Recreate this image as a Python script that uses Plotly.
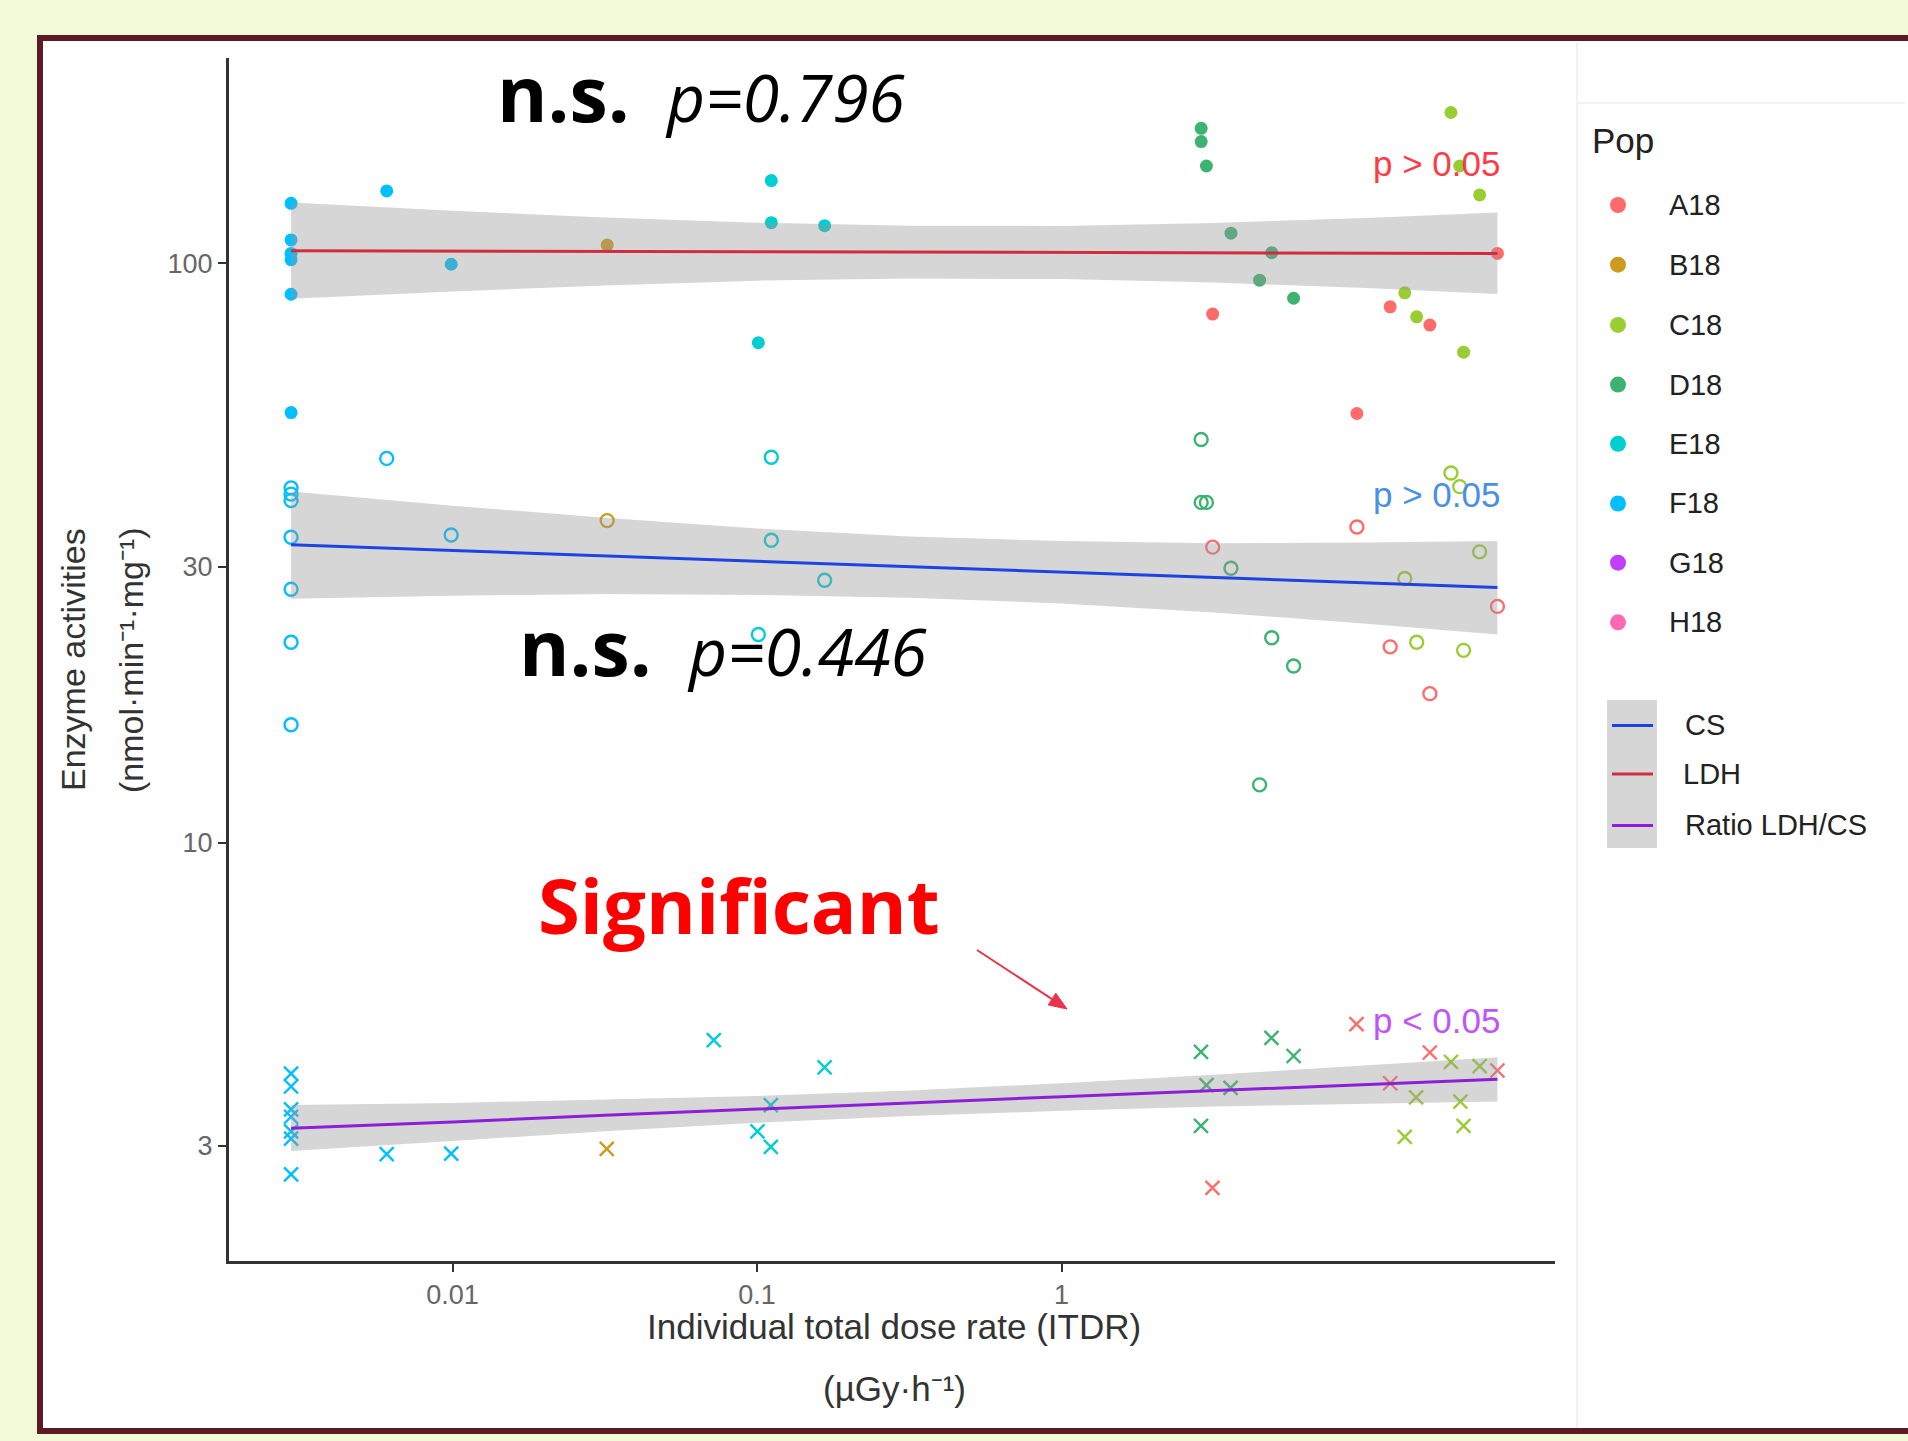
import plotly.graph_objects as go

# ---------------- data ----------------
pops = ["A18", "B18", "C18", "D18", "E18", "F18", "G18", "H18"]
pop_colors = ["#FF6A6A", "#CD9B1D", "#9ACD32", "#3CB371", "#00CED1", "#00BFFF", "#BF3EFF", "#FF69B4"]

# LDH (filled circles)
ldh_x = {
    "A18": [3.135, 12.0, 16.2, 9.33, 27.0],
    "B18": [0.0322],
    "C18": [19.0, 20.3, 23.6, 13.4, 14.66, 20.9],
    "D18": [2.874, 2.874, 2.99, 3.60, 4.90, 4.47, 5.78],
    "E18": [0.1114, 0.1114, 0.1667, 0.101],
    "F18": [0.00295, 0.00295, 0.00295, 0.00295, 0.00295, 0.00295, 0.00608, 0.0099],
}
ldh_y = {
    "A18": [81.8, 84.2, 78.3, 55.1, 104.1],
    "B18": [107.6],
    "C18": [182.2, 147.3, 131.3, 89.0, 80.9, 70.3],
    "D18": [171.1, 162.3, 147.3, 112.8, 104.4, 93.6, 87.1],
    "E18": [139.0, 117.6, 116.2, 73.0],
    "F18": [127.0, 109.8, 104.1, 101.5, 88.5, 55.3, 133.4, 99.7],
}
# CS (open circles)
cs_x = {
    "A18": [3.135, 9.33, 12.0, 16.2, 27.0],
    "B18": [0.0322],
    "C18": [19.0, 20.3, 23.6, 13.4, 14.66, 20.9],
    "D18": [2.874, 2.874, 2.99, 3.60, 4.90, 5.78, 4.47],
    "E18": [0.1114, 0.1114, 0.1667, 0.101],
    "F18": [0.00295, 0.00295, 0.00295, 0.00295, 0.00295, 0.00295, 0.00295, 0.00608, 0.0099],
}
cs_y = {
    "A18": [32.4, 35.1, 21.8, 18.1, 25.6],
    "B18": [36.0],
    "C18": [43.5, 41.2, 31.8, 28.6, 22.2, 21.5],
    "D18": [49.7, 38.7, 38.7, 29.8, 22.6, 20.2, 12.6],
    "E18": [46.3, 33.3, 28.4, 22.9],
    "F18": [41.0, 40.0, 39.0, 33.7, 27.4, 22.2, 16.0, 46.1, 34.0],
}
# Ratio LDH/CS (crosses)
ratio_x = {
    "A18": [3.13, 9.3, 16.2, 12.0, 27.0],
    "B18": [0.0321],
    "C18": [19.0, 23.6, 14.6, 20.4, 20.9, 13.4],
    "D18": [2.87, 4.89, 5.78, 2.99, 3.59, 2.87],
    "E18": [0.0721, 0.1667, 0.111, 0.1003, 0.111],
    "F18": [0.00295, 0.00295, 0.00295, 0.00295, 0.00295, 0.00295, 0.00295, 0.00608, 0.0099],
}
ratio_y = {
    "A18": [2.54, 4.87, 4.35, 3.85, 4.05],
    "B18": [2.965],
    "C18": [4.19, 4.12, 3.64, 3.58, 3.25, 3.11],
    "D18": [4.36, 4.61, 4.29, 3.82, 3.78, 3.25],
    "E18": [4.57, 4.10, 3.53, 3.18, 2.99],
    "F18": [4.0, 3.8, 3.47, 3.37, 3.18, 3.09, 2.68, 2.905, 2.91],
}

# fitted lines and confidence ribbons
fit_x = [0.00295, 0.01, 0.0316, 0.1, 0.316, 1.0, 3.16, 10.0, 27.0]
ldh_fit = [105.2, 105.06, 104.9, 104.8, 104.6, 104.5, 104.4, 104.2, 104.1]
ldh_up = [127.4, 123.3, 120.1, 117.6, 116.2, 116.1, 117.5, 119.8, 122.4]
ldh_lo = [86.9, 89.5, 91.6, 93.4, 94.2, 94.0, 92.7, 90.7, 88.6]
cs_fit = [32.7, 31.96, 31.3, 30.6, 29.96, 29.3, 28.7, 28.1, 27.6]
cs_up = [40.4, 38.2, 36.4, 34.9, 33.8, 33.2, 32.9, 33.0, 33.2]
cs_lo = [26.4, 26.7, 26.9, 26.8, 26.5, 25.9, 25.0, 23.9, 22.9]
ratio_fit = [3.22, 3.30, 3.39, 3.47, 3.56, 3.65, 3.74, 3.83, 3.91]
ratio_up = [3.53, 3.56, 3.61, 3.66, 3.74, 3.85, 3.98, 4.13, 4.27]
ratio_lo = [2.94, 3.06, 3.18, 3.29, 3.38, 3.45, 3.51, 3.55, 3.58]

line_names = ["CS", "LDH", "Ratio LDH/CS"]
line_colors = ["#1D44E0", "#D12D3F", "#8E1ED8"]

x_ticks = [0.01, 0.1, 1]
x_ticklabels = ["0.01", "0.1", "1"]
y_ticks = [3, 10, 30, 100]
y_ticklabels = ["3", "10", "30", "100"]

# ---------------- layout geometry ----------------
FW, FH = 1908, 1441
L, R, T, B = 229, 1555, 58, 1261
W, H = R - L, B - T


def px(x):
    return (x - L) / W


def py(y):
    return (B - y) / H


GGFONT = "Liberation Sans"
fig = go.Figure()

# points
for p, c in zip(pops, pop_colors):
    if p in ldh_x:
        fig.add_trace(go.Scatter(x=ldh_x[p], y=ldh_y[p], mode="markers",
                                 marker=dict(symbol="circle", size=13, color=c, line=dict(width=0)),
                                 showlegend=False, hoverinfo="skip"))
        fig.add_trace(go.Scatter(x=cs_x[p], y=cs_y[p], mode="markers",
                                 marker=dict(symbol="circle-open", size=13, color=c, line=dict(width=2.4, color=c)),
                                 showlegend=False, hoverinfo="skip"))
        fig.add_trace(go.Scatter(x=ratio_x[p], y=ratio_y[p], mode="markers",
                                 marker=dict(symbol="x-thin-open", size=14, color=c, line=dict(width=2.4, color=c)),
                                 showlegend=False, hoverinfo="skip"))

# ribbons
for up, lo in [(ldh_up, ldh_lo), (cs_up, cs_lo), (ratio_up, ratio_lo)]:
    fig.add_trace(go.Scatter(x=fit_x + fit_x[::-1], y=up + lo[::-1], mode="lines",
                             fill="toself", fillcolor="rgba(153,153,153,0.4)",
                             line=dict(width=0), showlegend=False, hoverinfo="skip"))
# fitted lines
for fy, col in [(cs_fit, line_colors[0]), (ldh_fit, line_colors[1]), (ratio_fit, line_colors[2])]:
    fig.add_trace(go.Scatter(x=fit_x, y=fy, mode="lines", line=dict(color=col, width=3),
                             showlegend=False, hoverinfo="skip"))

shapes = []
# white panel with maroon border
shapes.append(dict(type="rect", xref="paper", yref="paper", layer="below",
                   x0=px(40), x1=px(1930), y0=py(38), y1=py(1431),
                   fillcolor="white", line=dict(color="#5C1B24", width=6)))
# faint edges of the pasted image / legend panel
shapes.append(dict(type="line", xref="paper", yref="paper", layer="below",
                   x0=px(1577), x1=px(1577), y0=py(42), y1=py(1428),
                   line=dict(color="#EEEEEE", width=1.5)))
shapes.append(dict(type="line", xref="paper", yref="paper", layer="below",
                   x0=px(1577), x1=px(1905), y0=py(103), y1=py(103),
                   line=dict(color="#EEEEEE", width=1.5)))

# arrow pointing to the ratio fit
ARROW = "#E8334A"
tail = (977, 950)
tip = (1067, 1009)
base = (1052.0, 999.1)
c1 = (1048.2, 1004.9)
c2 = (1055.8, 993.2)
shapes.append(dict(type="line", xref="paper", yref="paper",
                   x0=px(tail[0]), y0=py(tail[1]), x1=px(base[0]), y1=py(base[1]),
                   line=dict(color=ARROW, width=2)))
shapes.append(dict(type="path", xref="paper", yref="paper",
                   path="M {:.5f},{:.5f} L {:.5f},{:.5f} L {:.5f},{:.5f} Z".format(
                       px(tip[0]), py(tip[1]), px(c1[0]), py(c1[1]), px(c2[0]), py(c2[1])),
                   fillcolor=ARROW, line=dict(color=ARROW, width=1)))

annotations = []


def txt(x, y, text, size, color, family=GGFONT, xanchor="left", weight="normal", style="normal", angle=0):
    annotations.append(dict(x=px(x), y=py(y), xref="paper", yref="paper", xanchor=xanchor, yanchor="middle",
                            text=text, showarrow=False, textangle=angle,
                            font=dict(family=family, size=size, color=color, weight=weight, style=style)))


# legend: Pop
txt(1590, 141, "Pop", 35, "#222222")
leg_y = [205, 264.7, 324.9, 384.6, 443.8, 503.5, 562.7, 622.3]
for p, c, yy in zip(pops, pop_colors, leg_y):
    r = 8
    shapes.append(dict(type="circle", xref="paper", yref="paper",
                       x0=px(1618 - r), x1=px(1618 + r), y0=py(yy + r), y1=py(yy - r),
                       fillcolor=c, line=dict(width=0)))
    txt(1667, yy, p, 29, "#222222")
# legend: lines
shapes.append(dict(type="rect", xref="paper", yref="paper", x0=px(1607), x1=px(1657), y0=py(848), y1=py(700),
                   fillcolor="#D6D6D6", line=dict(width=0)))
for name, col, yy, xl in zip(line_names, line_colors, [725.4, 773.9, 825.5], [1683, 1681, 1683]):
    shapes.append(dict(type="line", xref="paper", yref="paper", x0=px(1612), x1=px(1653), y0=py(yy), y1=py(yy),
                       line=dict(color=col, width=3)))
    txt(xl, yy, name, 29, "#222222")

# axis titles
txt(894, 1326, "Individual total dose rate (ITDR)", 35, "#333333", xanchor="center")
txt(894, 1388, "(µGy·h⁻¹)", 35, "#333333", xanchor="center")
txt(73, 660, "Enzyme activities", 34, "#333333", xanchor="center", angle=-90)
txt(131, 660, "(nmol·min⁻¹·mg⁻¹)", 34, "#333333", xanchor="center", angle=-90)

# p-value labels
for t, col, yy in [("p > 0.05", "#FF3B47", 163), ("p > 0.05", "#4A8FE6", 495), ("p < 0.05", "#BF55F5", 1020)]:
    txt(1502, yy, t, 35, col, xanchor="right")

# big statements (baseline - 0.388*size = centre)
txt(495, 122 - 0.388 * 77, "n.s.", 77, "#000000", family="Open Sans", weight="bold")
txt(663, 122 - 0.388 * 66, "p=0.796", 66, "#000000", family="Open Sans", style="italic")
txt(517, 676 - 0.388 * 77, "n.s.", 77, "#000000", family="Open Sans", weight="bold")
txt(685, 676 - 0.388 * 66, "p=0.446", 66, "#000000", family="Open Sans", style="italic")
txt(536, 934 - 0.388 * 76, "Significant", 76, "#FF0000", family="Open Sans", weight="bold")

fig.update_layout(
    width=FW, height=FH,
    margin=dict(l=L, r=FW - R, t=T, b=FH - B, pad=0),
    paper_bgcolor="#F0FAD8",
    plot_bgcolor="white",
    shapes=shapes,
    annotations=annotations,
    showlegend=False,
)
fig.update_xaxes(type="log", range=[-2.734, 1.6204], showgrid=False, zeroline=False,
                 showline=True, linecolor="#333333", linewidth=3,
                 ticks="outside", ticklen=8, tickwidth=2, tickcolor="#333333",
                 tickvals=x_ticks, ticktext=x_ticklabels,
                 tickfont=dict(family=GGFONT, size=27, color="#666666"))
fig.update_yaxes(type="log", range=[0.2787, 2.3546], showgrid=False, zeroline=False,
                 showline=True, linecolor="#333333", linewidth=3,
                 ticks="outside", ticklen=8, tickwidth=2, tickcolor="#333333",
                 tickvals=y_ticks, ticktext=y_ticklabels,
                 tickfont=dict(family=GGFONT, size=27, color="#666666"))

fig.write_html("out.html",
               config={"displayModeBar": False},
               post_script="document.body.style.margin='0px';document.body.style.padding='0px';"
                           "document.documentElement.style.overflow='hidden';"
                           "document.body.style.background='#F0FAD8';")
